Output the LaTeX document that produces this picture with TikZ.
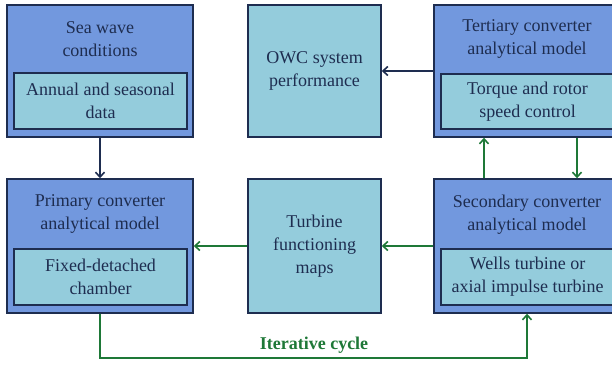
\documentclass[tikz,border=0pt]{standalone}
\usepackage{fontspec}
\setmainfont{Liberation Serif}
\usetikzlibrary{arrows.meta}
\definecolor{outerblue}{RGB}{114,152,222}
\definecolor{innercyan}{RGB}{148,204,220}
\definecolor{navy}{RGB}{30,45,80}
\definecolor{loopgreen}{RGB}{30,120,55}
\tikzset{
  outerbox/.style={draw=navy, line width=1.4pt, fill=outerblue, inner sep=0pt},
  innerbox/.style={draw=navy, line width=1.4pt, fill=innercyan, inner sep=0pt,
    align=center, text=navy, font=\fontsize{18}{23}\selectfont},
  titletext/.style={align=center, text=navy, inner sep=0pt, font=\fontsize{18}{23}\selectfont},
  navyarrow/.style={draw=navy, line width=1.8pt, -{Straight Barb[length=5pt,width=9pt,line width=1.6pt]}},
  greenarrow/.style={draw=loopgreen, line width=1.8pt, -{Straight Barb[length=5pt,width=9pt,line width=1.6pt]}},
  greenline/.style={draw=loopgreen, line width=1.8pt}
}
\begin{document}
\begin{tikzpicture}[x=1pt,y=-1pt]
\useasboundingbox (0,0) rectangle (612,366);
\begin{scope}
\clip (0,0) rectangle (612,366);
% top row
\node[outerbox, minimum width=186pt, minimum height=132pt] (sea) at (100,71) {};
\node[titletext] (seat) at (100,39) {Sea wave\\conditions};
\node[innerbox, minimum width=173pt, minimum height=56pt] (seai) at (100.5,101) {Annual and seasonal\\data};

\node[innerbox, minimum width=133pt, minimum height=132pt] (owc) at (314.5,71) {OWC system\\performance};

\node[outerbox, minimum width=186pt, minimum height=132pt] (ter) at (527,71) {};
\node[titletext] (tert) at (527,39) {Tertiary converter\\analytical model};
\node[innerbox, minimum width=173pt, minimum height=55pt] (teri) at (527.5,101.5) {Torque and rotor\\speed control};

% bottom row
\node[outerbox, minimum width=186pt, minimum height=134pt] (prim) at (100,246) {};
\node[titletext] (primt) at (100,214) {Primary converter\\analytical model};
\node[innerbox, minimum width=173pt, minimum height=56pt] (primi) at (100.5,277) {Fixed-detached\\chamber};

\node[innerbox, minimum width=133pt, minimum height=134pt] (map) at (314.5,246) {Turbine\\functioning\\maps};

\node[outerbox, minimum width=186pt, minimum height=134pt] (sec) at (527,246) {};
\node[titletext] (sect) at (527,215) {Secondary converter\\analytical model};
\node[innerbox, minimum width=173pt, minimum height=56pt] (seci) at (527.5,277) {Wells turbine or\\axial impulse turbine};

% connectors
\draw[navyarrow] (sea.south) -- (prim.north);
\draw[navyarrow] (ter.west) -- (owc.east);
\draw[greenarrow] (sec.west) -- (map.east);
\draw[greenarrow] (map.west) -- (prim.east);
\draw[greenarrow] ([xshift=-43pt]sec.north) -- ([xshift=-43pt]ter.south);
\draw[greenarrow] ([xshift=50pt]ter.south) -- ([xshift=50pt]sec.north);
\coordinate (loopmid) at (314,358);
\draw[greenline] (prim.south) |- (loopmid);
\draw[greenarrow] (loopmid) -| (sec.south);
\node[text=loopgreen, font=\fontsize{18}{23}\selectfont\bfseries, inner sep=0pt] (iter) at (314,345) {Iterative cycle};
\end{scope}
\end{tikzpicture}
\end{document}
